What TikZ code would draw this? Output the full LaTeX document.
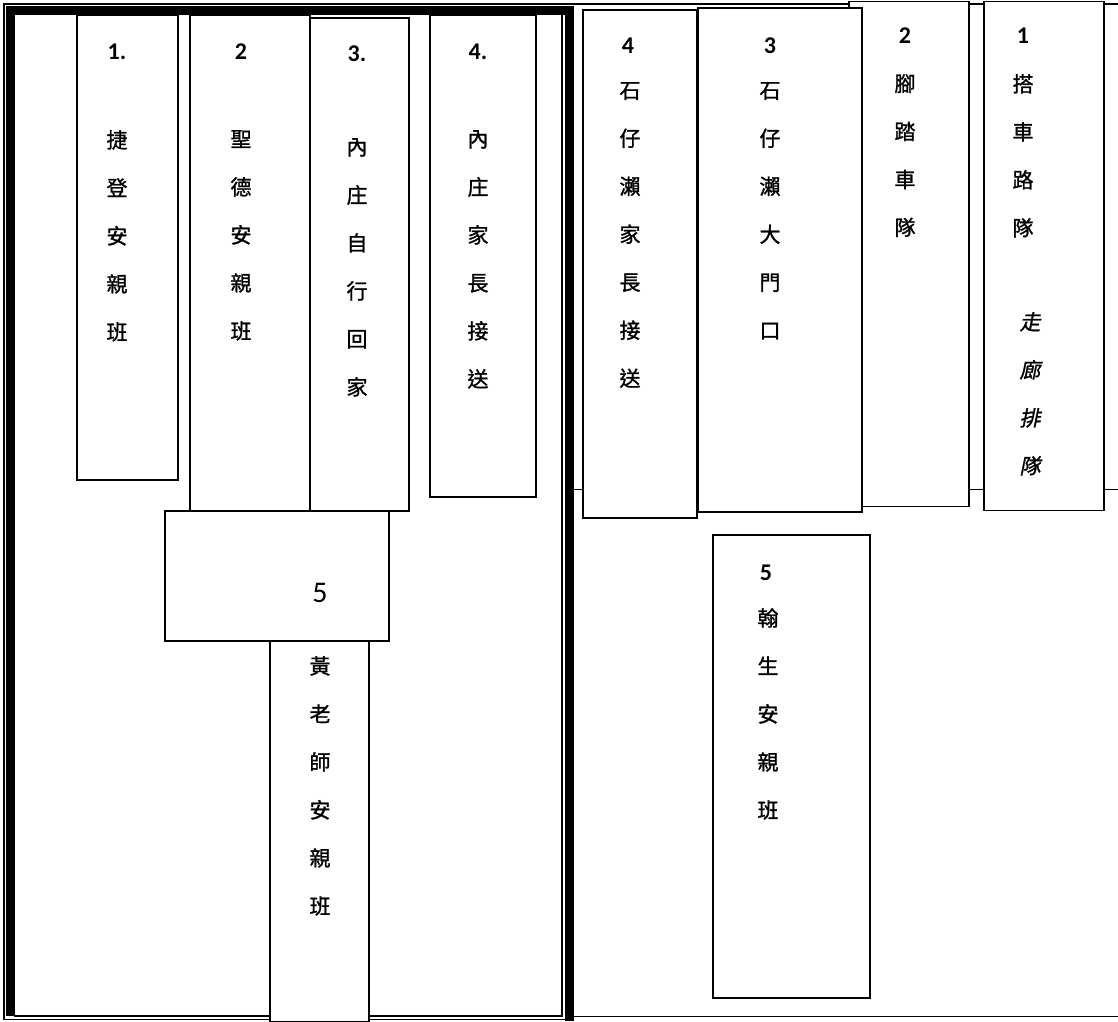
\documentclass[tikz,border=0pt]{standalone}
\usepackage{fontspec}
\setmainfont{Carlito}
\newfontfamily\cjk[FakeBold=1.2]{Noto Sans CJK TC}
\newfontfamily\cjkslant[FakeSlant=0.2,FakeBold=1.2]{Noto Sans CJK TC}
\usepackage{tikz}

\begin{document}
\begin{tikzpicture}[x=1pt, y=-1pt,
    box/.style={draw=black, fill=white, line width=1.5pt, anchor=north west, inner sep=0pt},
    num/.style={font=\fontsize{24}{28}\selectfont\bfseries, inner sep=0pt},
    col/.style={font=\fontsize{21}{48}\selectfont\cjk, align=center, anchor=north, inner sep=0pt},
    slant/.style={font=\fontsize{21}{48}\selectfont\cjkslant, align=center, anchor=north, inner sep=0pt},
    thin/.style={line width=1.5pt},
    heavy/.style={line width=8.5pt}
]
\useasboundingbox (0,0) rectangle (1118,1021);

% frames
\draw[thin] (4,1020) -- (4,4) -- (1118,4);
\draw[thin] (4,1019.5) -- (566,1019.5);
\draw[heavy] (10.5,1016) -- (10.5,10.5) -- (569.5,10.5) -- (569.5,1021);
\draw[thin] (562,14) -- (562,1016) -- (14,1016);
\draw[thin] (573,489.5) -- (1118,489.5);
\draw[thin] (573,1016.5) -- (1118,1016.5);

% left side
\node[box, minimum width=101, minimum height=465] (jieden) at (76,14) {};
\node[box, minimum width=120, minimum height=496] (shengde) at (189,14) {};
\node[box, minimum width=99, minimum height=493] (neiself) at (309,17) {};
\node[box, minimum width=106, minimum height=482] (neiparent) at (429,14) {};
\node[box, minimum width=224, minimum height=130] (five) at (164,510) {};
\node[box, minimum width=99, minimum height=381] (huang) at (269,640) {};

\node[num] (n1) at (117,52) {1.};
\node[col] (t1) at (117,130) {捷\\登\\安\\親\\班};
\node[num] (n2) at (241,52) {2};
\node[col] (t2) at (241,130) {聖\\德\\安\\親\\班};
\node[num] (n3) at (357,54) {3.};
\node[col] (t3) at (357,138) {內\\庄\\自\\行\\回\\家};
\node[num] (n4) at (478,52) {4.};
\node[col] (t4) at (478,130) {內\\庄\\家\\長\\接\\送};
\node[num, font=\fontsize{30}{32}\selectfont] (n5) at (320,593) {5};
\node[col] (t5) at (320,656) {黃\\老\\師\\安\\親\\班};

% right side
\node[box, minimum width=120, minimum height=505] (bike) at (848,0.8) {};
\node[box, minimum width=164, minimum height=504] (gate) at (697,7) {};
\node[box, minimum width=114, minimum height=508] (shiparent) at (582,9) {};
\node[box, minimum width=120, minimum height=509] (bus) at (983,0.8) {};
\node[box, minimum width=157, minimum height=463] (hansheng) at (712,534) {};

\node[num] (r4) at (628,46) {4};
\node[col] (s4) at (630,82) {石\\仔\\瀨\\家\\長\\接\\送};
\node[num] (r3) at (770,46) {3};
\node[col] (s3) at (770,82) {石\\仔\\瀨\\大\\門\\口};
\node[num] (r2) at (905,36) {2};
\node[col] (s2) at (905,74) {腳\\踏\\車\\隊};
\node[num] (r1) at (1023,36) {1};
\node[col] (s1) at (1023,74) {搭\\車\\路\\隊};
\node[slant] (hall) at (1030,312) {走\\廊\\排\\隊};
\node[num] (r5) at (766,573) {5};
\node[col] (s5) at (768,608) {翰\\生\\安\\親\\班};
\end{tikzpicture}
\end{document}
